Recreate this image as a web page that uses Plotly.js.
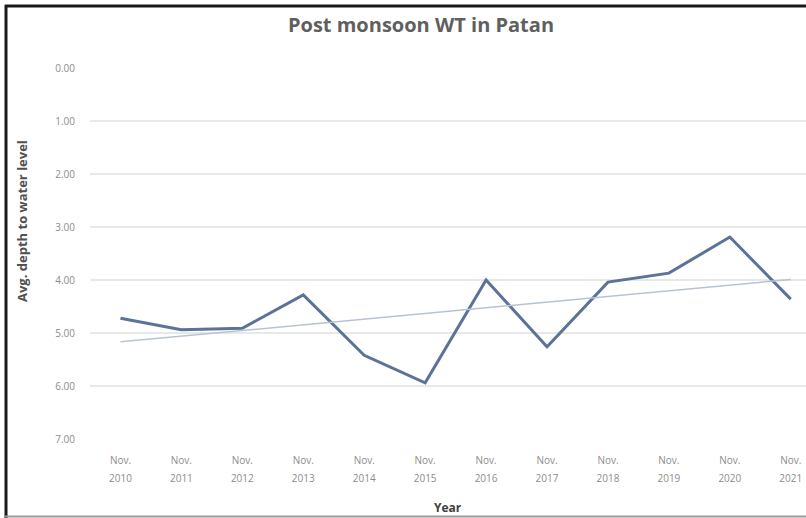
<!DOCTYPE html>
<html>
<head>
<meta charset="utf-8">
<script src="https://cdn.plot.ly/plotly-3.0.1.min.js"></script>
<style>
html,body{margin:0;padding:0;background:#fff;}
#chart{width:806px;height:518px;}
</style>
</head>
<body>
<div id="chart"></div>
<script>
// Data
const years = ["2010","2011","2012","2013","2014","2015","2016","2017","2018","2019","2020","2021"];
const monthLabel = "Nov.";
const depth = [4.72, 4.94, 4.91, 4.28, 5.42, 5.94, 4.00, 5.26, 4.04, 3.87, 3.19, 4.36];
const yTickVals = [0,1,2,3,4,5,6,7];
const yTickText = ["0.00","1.00","2.00","3.00","4.00","5.00","6.00","7.00"];

// Layout geometry (pixels)
const W = 806, H = 518;
const L = 90, R = 0, T = 68, B = 79;
const pw = W - L - R, ph = H - T - B;
const px = p => (p - L) / pw;
const py = q => (H - B - q) / ph;

const xIdx = years.map((_, i) => i);
const xRange = [-0.5, 11.25];

// Linear trendline (least squares) from the data
const n = depth.length;
const mx = xIdx.reduce((a, b) => a + b, 0) / n;
const my = depth.reduce((a, b) => a + b, 0) / n;
let sxy = 0, sxx = 0;
for (let i = 0; i < n; i++) { sxy += (xIdx[i] - mx) * (depth[i] - my); sxx += (xIdx[i] - mx) ** 2; }
const slope = sxy / sxx, icpt = my - slope * mx;
const trend = xIdx.map(x => icpt + slope * x);

const traces = [
  {x: xIdx, y: trend, type: 'scatter', mode: 'lines', xaxis: 'x2', yaxis: 'y',
   line: {color: '#b8c3d2', width: 1.5}, hoverinfo: 'skip'},
  {x: xIdx, y: depth, type: 'scatter', mode: 'lines', xaxis: 'x', yaxis: 'y',
   line: {color: '#5b7299', width: 3}}
];

const tickFont = {size: 10, color: '#8c8c8c', family: 'Open Sans, sans-serif'};

const layout = {
  width: W, height: H,
  margin: {l: L, r: R, t: T, b: B, pad: 0},
  paper_bgcolor: '#fff', plot_bgcolor: '#fff',
  showlegend: false,
  font: {family: 'Open Sans, sans-serif', color: '#8c8c8c'},
  title: {text: '<b>Post monsoon WT in Patan</b>', x: 421 / W, xanchor: 'center',
          y: 1 - 25 / H, yanchor: 'middle',
          font: {size: 20, color: '#5f5f5f', family: 'Open Sans, sans-serif'}},
  xaxis: {
    range: xRange, tickmode: 'array', tickvals: xIdx, ticktext: years.map(() => monthLabel),
    showgrid: false, zeroline: false, showline: false, ticks: '',
    tickfont: tickFont, ticklabelstandoff: 14
  },
  xaxis2: {
    range: xRange, overlaying: 'x', anchor: 'y', side: 'bottom',
    tickmode: 'array', tickvals: xIdx, ticktext: years,
    showgrid: false, zeroline: false, showline: false, ticks: '',
    tickfont: tickFont, ticklabelstandoff: 32
  },
  yaxis: {
    range: [7, 0], tickmode: 'array', tickvals: yTickVals, ticktext: yTickText,
    showgrid: true, gridcolor: '#e8e8e8', gridwidth: 1.5, zeroline: false, showline: false,
    ticks: '', tickfont: tickFont, ticklabelstandoff: 14
  },
  annotations: [
    {text: '<b>Avg. depth to water level</b>', xref: 'paper', yref: 'paper',
     x: px(22), y: py(221), textangle: -90, showarrow: false,
     xanchor: 'center', yanchor: 'middle',
     font: {size: 13, color: '#505050', family: 'Open Sans, sans-serif'}},
    {text: '<b>Year</b>', xref: 'paper', yref: 'paper',
     x: px(448), y: py(507), showarrow: false, xanchor: 'center', yanchor: 'middle',
     font: {size: 12, color: '#404040', family: 'Open Sans, sans-serif'}}
  ],
  shapes: [
    {type: 'line', xref: 'paper', yref: 'paper', x0: px(6), x1: px(6), y0: py(5), y1: py(518),
     line: {color: '#1a1a1a', width: 3}},
    {type: 'line', xref: 'paper', yref: 'paper', x0: px(5), x1: px(806), y0: py(6), y1: py(6),
     line: {color: '#1a1a1a', width: 3}},
    {type: 'line', xref: 'paper', yref: 'paper', x0: px(5), x1: px(806), y0: py(516.5), y1: py(516.5),
     line: {color: '#9a9a9a', width: 2}}
  ]
};

Plotly.newPlot('chart', traces, layout, {displayModeBar: false, staticPlot: true});
</script>
</body>
</html>
